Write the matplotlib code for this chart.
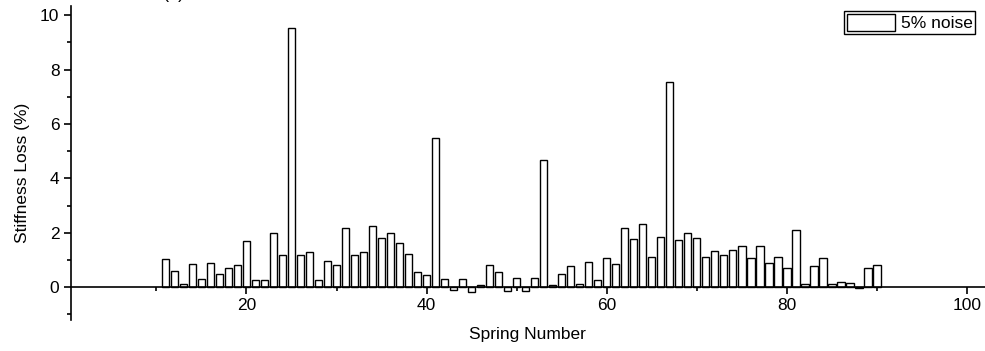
#!/usr/bin/env python3
import matplotlib
matplotlib.use('Agg')
import matplotlib.pyplot as plt
from matplotlib.ticker import MultipleLocator

plt.rcParams['font.family'] = ['Liberation Sans', 'DejaVu Sans']

#data
springs = list(range(11, 91))
loss = [1.02, 0.59, 0.12, 0.86, 0.31, 0.87, 0.48, 0.72, 0.80, 1.71,
        0.26, 0.25, 1.98, 1.17, 9.53, 1.17, 1.28, 0.25, 0.96, 0.81,
        2.18, 1.19, 1.28, 2.23, 1.79, 1.99, 1.64, 1.20, 0.56, 0.45,
        5.48, 0.28, -0.11, 0.28, -0.18, 0.09, 0.83, 0.54, -0.15, 0.32,
        -0.15, 0.34, 4.67, 0.07, 0.47, 0.76, 0.13, 0.94, 0.26, 1.06,
        0.86, 2.18, 1.78, 2.31, 1.09, 1.83, 7.54, 1.74, 1.99, 1.79,
        1.12, 1.34, 1.18, 1.35, 1.53, 1.06, 1.52, 0.90, 1.12, 0.69,
        2.09, 0.13, 0.77, 1.07, 0.10, 0.17, 0.16, -0.02, 0.70, 0.80]
series_name = '5% noise'
x_label = 'Spring Number'
y_label = 'Stiffness Loss (%)'

#set figure
fig = plt.figure(figsize=(9.85, 3.51), dpi=100)
ax = fig.add_axes([0.0716, 0.0883, 0.9284, 0.8946])

ax.bar(springs, loss, width=0.82, facecolor='white', edgecolor='black',
       linewidth=1.0, label=series_name)

ax.set_xlim(0.47, 102)
ax.set_ylim(-1.21, 10.34)

#axes look
ax.spines['top'].set_visible(False)
ax.spines['right'].set_visible(False)
ax.spines['bottom'].set_position(('data', 0))
ax.spines['bottom'].set_linewidth(1.2)
ax.spines['left'].set_linewidth(1.2)

ax.xaxis.set_major_locator(MultipleLocator(20))
ax.xaxis.set_minor_locator(MultipleLocator(10))
ax.yaxis.set_major_locator(MultipleLocator(2))
ax.yaxis.set_minor_locator(MultipleLocator(1))
ax.set_xticks([20, 40, 60, 80, 100])
ax.tick_params(axis='both', which='major', direction='out', length=5,
               width=1.2, labelsize=12.5, pad=3)
ax.tick_params(axis='both', which='minor', direction='out', length=3,
               width=1.2)

ax.set_xlabel(x_label, fontsize=12.5, va='center')
ax.xaxis.set_label_coords(0.5, -0.045)
ax.set_ylabel(y_label, fontsize=12.5, va='center')
ax.yaxis.set_label_coords(-0.053, 0.47)

#legend
ax.legend(loc='upper right', bbox_to_anchor=(975 / 985, 1 - 11 / 351),
          bbox_transform=fig.transFigure, frameon=True, fancybox=False,
          edgecolor='black', framealpha=1, fontsize=12.5, borderpad=0.15,
          handlelength=2.8, handleheight=1.2, handletextpad=0.3,
          borderaxespad=0)

#panel mark, mostly off the top edge
fig.text(174 / 985, 1 - 2 / 351, '(a)', fontsize=13, ha='center', va='bottom')

fig.savefig('out.png', dpi=100)
